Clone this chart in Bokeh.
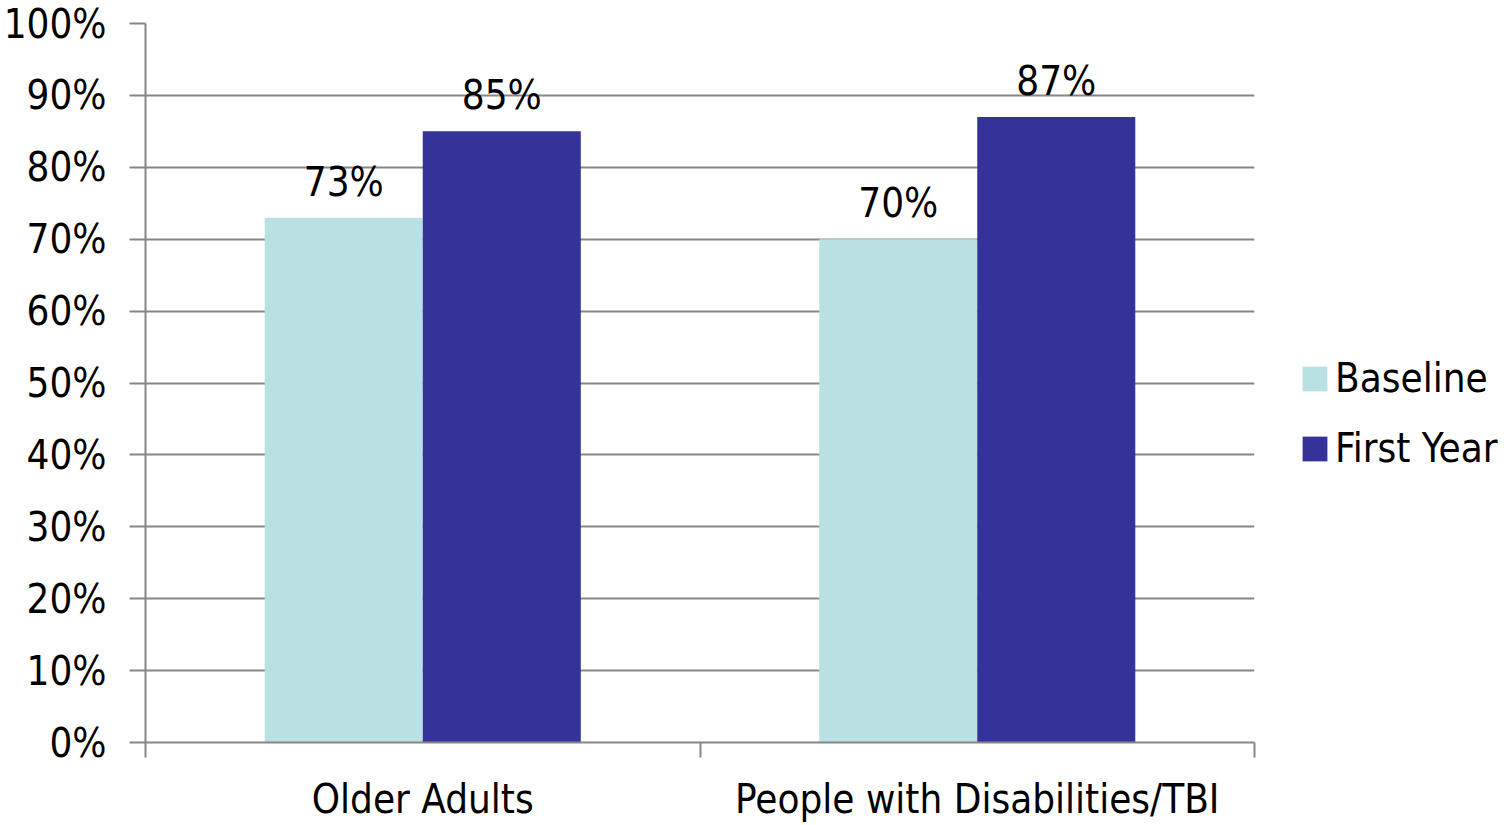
from bokeh.plotting import figure
from bokeh.models import (ColumnDataSource, FixedTicker, NumeralTickFormatter, Legend,
                          LegendItem, Range1d, LabelSet)
from bokeh.core.properties import value
from bokeh.transform import dodge
from bokeh.embed import file_html
from bokeh.resources import INLINE

categories = ["Older Adults", "People with Disabilities/TBI"]
series = ["Baseline", "First Year"]
baseline = [0.73, 0.70]
first_year = [0.85, 0.87]
colors = ["#B9E0E3", "#353399"]
y_ticks = [i / 10 for i in range(11)]

FONT = "DejaVu Sans Condensed"
FS = "40px"

xc = [i + 0.5 for i in range(len(categories))]
src = ColumnDataSource(dict(
    x=xc, baseline=baseline, first=first_year,
    lb=[f"{round(v*100)}%" for v in baseline],
    lf=[f"{round(v*100)}%" for v in first_year],
))

FW, FH = 1109, 719

p = figure(frame_width=FW, frame_height=FH, output_backend="svg", toolbar_location=None,
           x_range=Range1d(0, len(categories)), y_range=Range1d(0, 1),
           min_border_left=145, min_border_top=23,
           min_border_right=242, min_border_bottom=60)
p.outline_line_color = None

bw = 0.285
r1 = p.vbar(x=dodge("x", -bw / 2, range=p.x_range), top="baseline", width=bw,
            source=src, fill_color=colors[0], line_color=None)
r2 = p.vbar(x=dodge("x", bw / 2, range=p.x_range), top="first", width=bw,
            source=src, fill_color=colors[1], line_color=None)

for col, lab, off in [("baseline", "lb", -bw / 2), ("first", "lf", bw / 2)]:
    ls = LabelSet(x=dodge("x", off, range=p.x_range), y=col, text=lab, source=src,
                  text_align="center", text_baseline="bottom", y_offset=13,
                  text_font=value(FONT), text_font_size=value(FS), text_color="#000000")
    p.add_layout(ls)

# y axis
p.yaxis.ticker = FixedTicker(ticks=y_ticks, minor_ticks=[])
p.yaxis.formatter = NumeralTickFormatter(format="0%")
p.yaxis.axis_line_color = "#868686"
p.yaxis.axis_line_width = 2
p.yaxis.major_tick_line_color = "#868686"
p.yaxis.major_tick_line_width = 2
p.yaxis.major_tick_out = 16
p.yaxis.major_tick_in = 0
p.yaxis.major_label_standoff = 23
p.yaxis.major_label_text_font = FONT
p.yaxis.major_label_text_font_size = FS
p.yaxis.major_label_text_color = "#000000"

# x axis
p.xaxis.ticker = FixedTicker(ticks=xc, minor_ticks=list(range(len(categories) + 1)))
p.xaxis.major_label_overrides = {x: c for x, c in zip(xc, categories)}
p.xaxis.axis_line_color = "#868686"
p.xaxis.axis_line_width = 2
p.xaxis.major_tick_out = 0
p.xaxis.major_tick_in = 0
p.xaxis.major_tick_line_color = None
p.xaxis.minor_tick_out = 15
p.xaxis.minor_tick_in = 0
p.xaxis.minor_tick_line_color = "#868686"
p.xaxis.minor_tick_line_width = 2
p.xaxis.major_label_standoff = 18
p.xaxis.major_label_text_font = FONT
p.xaxis.major_label_text_font_size = FS
p.xaxis.major_label_text_color = "#000000"

p.xgrid.grid_line_color = None
p.ygrid.grid_line_color = "#868686"
p.ygrid.grid_line_width = 2

legend = Legend(items=[LegendItem(label=series[0], renderers=[r1]),
                       LegendItem(label=series[1], renderers=[r2])],
                location=(45, 266), orientation="vertical",
                glyph_width=31, glyph_height=31, label_height=56, spacing=14,
                label_standoff=5, padding=0, margin=0,
                border_line_color=None, background_fill_alpha=0,
                label_text_font=FONT, label_text_font_size=FS,
                label_text_color="#000000")
p.add_layout(legend, "right")

open("out.html", "w").write(file_html(p, INLINE))
